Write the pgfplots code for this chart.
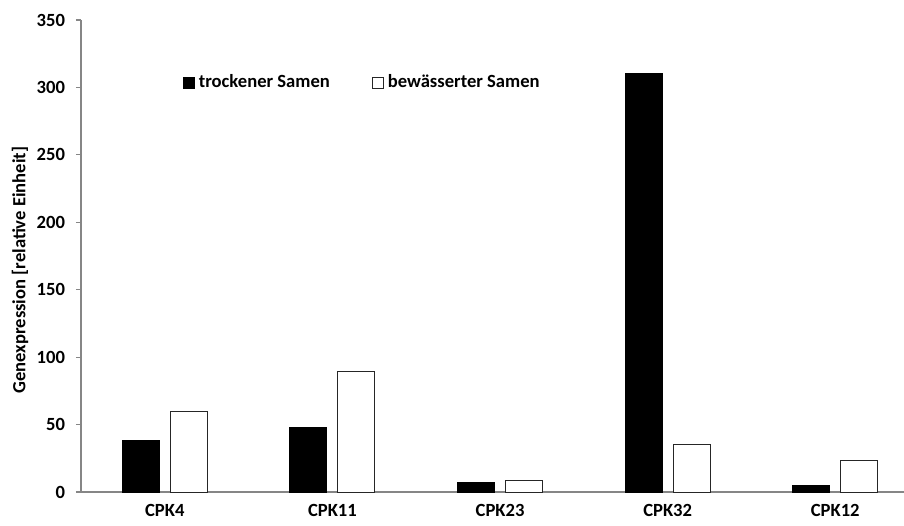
\documentclass[border=0pt]{standalone}
\usepackage{pgfplots}
\pgfplotsset{compat=1.18}
\usepackage{fontspec}
\setmainfont{Carlito}
\definecolor{axisgray}{HTML}{868686}
\pgfplotsset{sq legend/.style={legend image code/.code={\draw[##1,line width=0.5pt] (0pt,-2.75pt) rectangle (5.5pt,2.75pt);}}}
\begin{document}
\begin{tikzpicture}
\begin{axis}[
  scale only axis, width=411.5pt, height=236pt,
  ybar=5.5pt, bar width=18.5pt,
  xmin=-0.5, xmax=4.41, ymin=0, ymax=350,
  xtick=data, xticklabels={CPK4,CPK11,CPK23,CPK32,CPK12},
  ytick={0,50,...,350},
  axis x line*=bottom, axis y line*=left,
  axis line style={axisgray, line width=0.6pt, -},
  x tick style={draw=none},
  y tick style={axisgray, line width=0.6pt},
  tick align=outside, major tick length=2.5pt,
  font=\fontsize{9.3}{11}\selectfont\bfseries,
  tick label style={font=\fontsize{9.3}{11}\selectfont\bfseries},
  /pgf/number format/assume math mode=true,
  yticklabel style={xshift=-2pt},
  ylabel={Genexpression [relative Einheit]},
  every axis y label/.style={at={(axis description cs:-0.0741,0.47)}, rotate=90, anchor=center},
  legend style={at={(0.116,0.867)}, anchor=west, draw=none, fill=none,
    font=\fontsize{9.3}{11}\selectfont\bfseries,
    /tikz/every even column/.append style={column sep=19pt}},
  legend columns=2,
  clip=false,
]
% trockener Samen
\addplot[fill=black, draw=black, line width=0.5pt, sq legend] coordinates {(0,38) (1,48) (2,7) (3,310) (4,5)};
% bewaesserter Samen
\addplot[fill=white, draw=black!85, line width=0.5pt, sq legend] coordinates {(0,59.5) (1,89) (2,8.5) (3,35.5) (4,23.5)};
\legend{trockener Samen, bewässerter Samen}
\end{axis}
\pgfresetboundingbox
\path (-40.5pt,-16.5pt) rectangle (411.5pt,246pt);
\end{tikzpicture}
\end{document}
